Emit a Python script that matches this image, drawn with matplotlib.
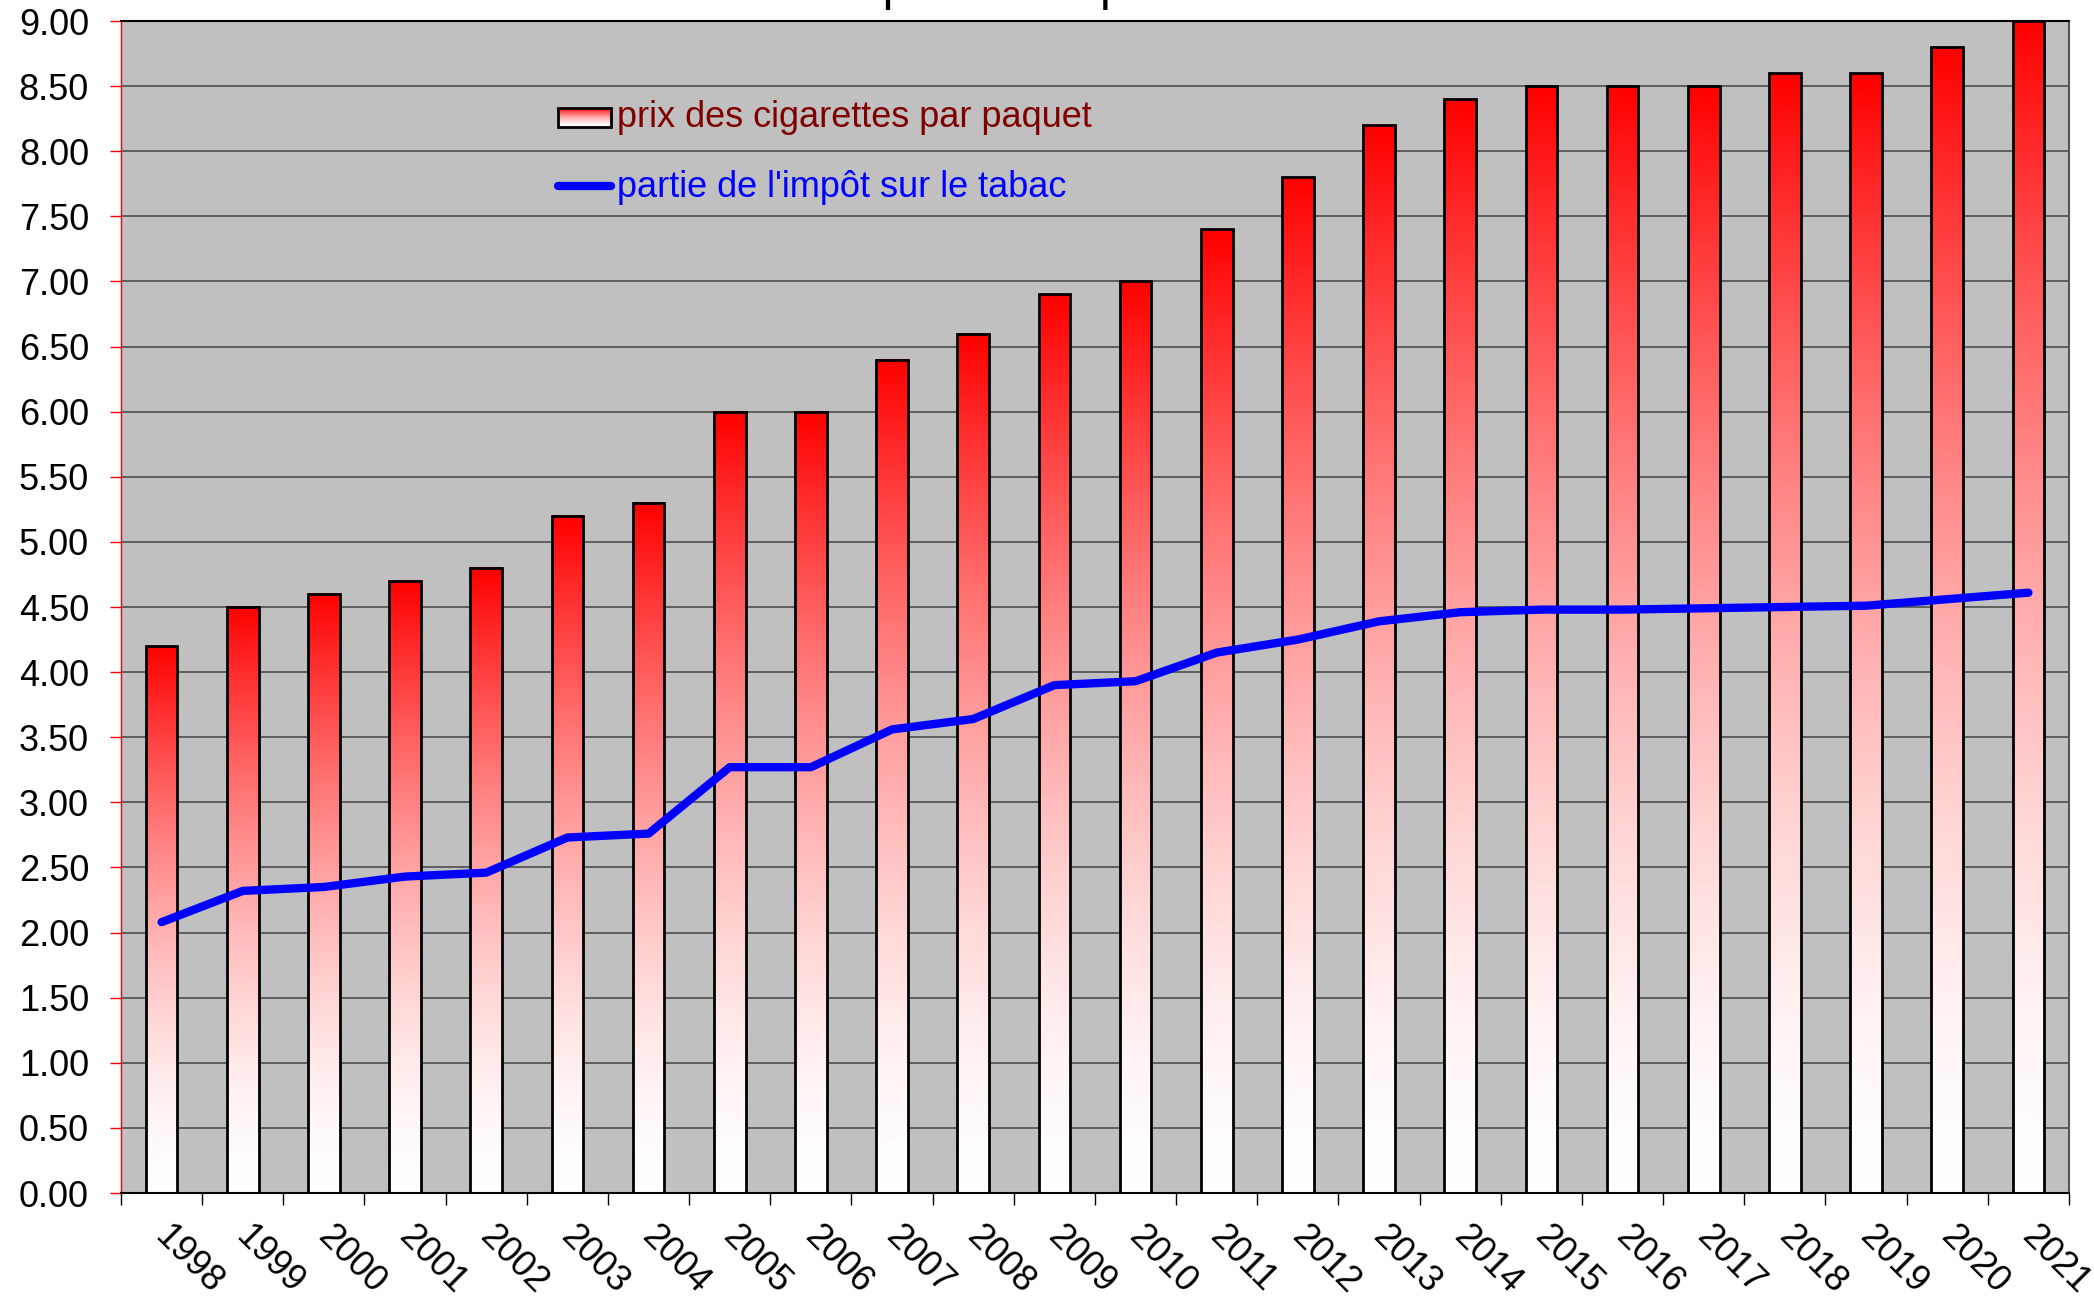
import numpy as np
import matplotlib
matplotlib.use("Agg")
import matplotlib.pyplot as plt
from matplotlib.patches import Rectangle
from matplotlib.transforms import ScaledTranslation


# -----------------------------
# Data
# -----------------------------
years = ["1998", "1999", "2000", "2001", "2002", "2003", "2004", "2005",
         "2006", "2007", "2008", "2009", "2010", "2011", "2012", "2013",
         "2014", "2015", "2016", "2017", "2018", "2019", "2020", "2021"]

prix_paquet = [4.20, 4.50, 4.60, 4.70, 4.80, 5.20, 5.30, 6.00,
               6.00, 6.40, 6.60, 6.90, 7.00, 7.40, 7.80, 8.20,
               8.40, 8.50, 8.50, 8.50, 8.60, 8.60, 8.80, 9.00]

impot_tabac = [2.08, 2.32, 2.35, 2.43, 2.46, 2.73, 2.76, 3.27,
               3.27, 3.56, 3.64, 3.90, 3.93, 4.15, 4.25, 4.39,
               4.46, 4.48, 4.48, 4.49, 4.50, 4.51, 4.56, 4.61]

label_prix = "prix des cigarettes par paquet"
label_impot = "partie de l'impôt sur le tabac"
title_text = "Le prix et l'impôt"

y_ticks = np.arange(0, 9.01, 0.5)

plt.rcParams["font.family"] = ["Liberation Sans", "DejaVu Sans"]


# -----------------------------
# Red -> white vertical gradient
# -----------------------------
def red_gradient(n=256):
    frac = np.linspace(0, 1, n)            # 0 = bottom, 1 = top
    gb = 1 - frac ** 1.6
    img = np.ones((n, 1, 3))
    img[:, 0, 1] = gb
    img[:, 0, 2] = gb
    return img


grad = red_gradient()

# -----------------------------
# Figure
# -----------------------------
fig = plt.figure(figsize=(20.94, 12.98), dpi=100)
ax = fig.add_axes([0.05778, 0.08089, 0.93028, 0.90293])
ax.set_facecolor("#C0C0C0")

x = np.arange(len(years))

bars = ax.bar(x, prix_paquet, width=0.39, facecolor="none",
              edgecolor="black", linewidth=2.0, zorder=3)
for b in bars:
    ax.imshow(grad, extent=[b.get_x(), b.get_x() + b.get_width(), 0, b.get_height()],
              origin="lower", aspect="auto", interpolation="bilinear", zorder=2)

ax.plot(x, impot_tabac, color="#0000FF", linewidth=6.0,
        solid_capstyle="round", solid_joinstyle="round", zorder=4)

# axes limits / ticks
ax.set_xlim(-0.5, len(years) - 0.5)
ax.set_ylim(0, 9)
ax.set_yticks(y_ticks)
ax.set_yticklabels([f"{v:.2f}" for v in y_ticks])
ax.tick_params(axis="y", color="red", labelcolor="black", length=8,
               width=1, direction="out", labelsize=26, pad=15)

ax.set_xticks(np.arange(-0.5, len(years), 1))
ax.set_xticklabels([])
ax.tick_params(axis="x", which="major", color="black", length=8.6,
               width=1, direction="out")
ax.set_xticks(x, minor=True)
ax.set_xticklabels(years, minor=True, rotation=-45, ha="left", fontsize=26)
ax.tick_params(axis="x", which="minor", length=0, pad=19)
offset = ScaledTranslation(-10 / 72, 0, fig.dpi_scale_trans)
for lab in ax.get_xticklabels(minor=True):
    lab.set_transform(lab.get_transform() + offset)

ax.yaxis.grid(True, color="#4d4d4d", linewidth=1.2)
ax.set_axisbelow(True)

ax.spines["left"].set_color("red")
ax.spines["left"].set_linewidth(1.0)
ax.spines["bottom"].set_color("black")
ax.spines["bottom"].set_linewidth(1.5)
ax.spines["top"].set_color("black")
ax.spines["top"].set_linewidth(1.5)
ax.spines["right"].set_color("#555555")
ax.spines["right"].set_linewidth(1.5)

# -----------------------------
# Legend (drawn by hand)
# -----------------------------
ax.imshow(grad, extent=[0.2243, 0.2515, 0.9096, 0.9258], transform=ax.transAxes,
          origin="lower", aspect="auto", interpolation="bilinear", zorder=5)
ax.add_patch(Rectangle((0.2243, 0.9096), 0.2515 - 0.2243, 0.9258 - 0.9096,
                       transform=ax.transAxes, fill=False, edgecolor="black",
                       linewidth=2.0, zorder=6))
ax.text(0.2546, 0.9096, label_prix, transform=ax.transAxes, color="#800000",
        fontsize=26, va="baseline", ha="left", zorder=6)
ax.plot([0.2243, 0.2515], [0.8592, 0.8592], transform=ax.transAxes,
        color="#0000FF", linewidth=6.0, solid_capstyle="round", zorder=6)
ax.text(0.2546, 0.8498, label_impot, transform=ax.transAxes, color="#0000FF",
        fontsize=26, va="baseline", ha="left", zorder=6)

ax.set_xlim(-0.5, len(years) - 0.5)
ax.set_ylim(0, 9)

# title sits mostly above the canvas, only descenders remain
fig.text(0.389, 1 + 0.5 / 1298, title_text, fontsize=35, ha="left", va="baseline")

fig.savefig("out.png", dpi=100)
